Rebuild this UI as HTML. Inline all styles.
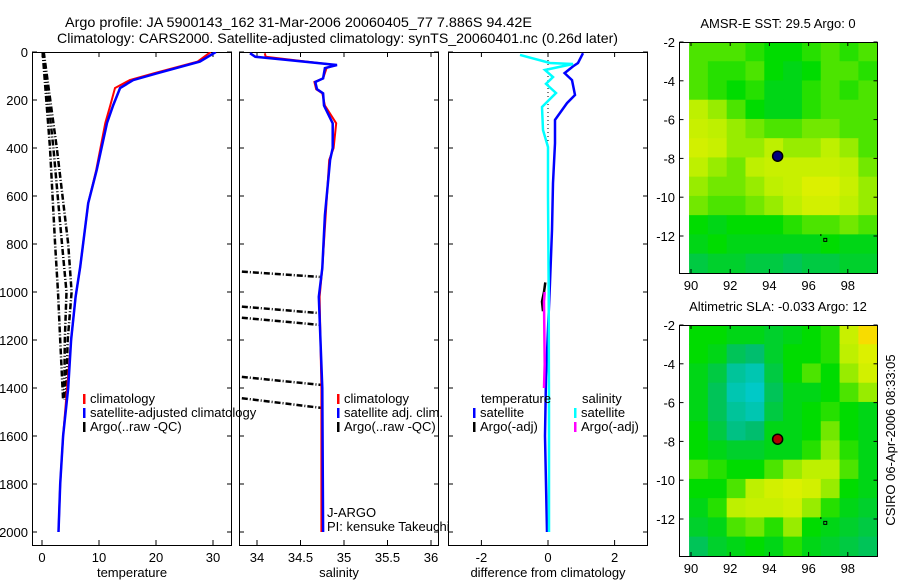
<!DOCTYPE html>
<html><head><meta charset="utf-8"><style>
html,body{margin:0;padding:0;background:#fff;}
svg{display:block;font-family:"Liberation Sans",sans-serif;}
</style></head><body>
<svg id="fig" width="900" height="580" xmlns="http://www.w3.org/2000/svg">
<text x="65" y="27" font-size="14" textLength="467" lengthAdjust="spacingAndGlyphs">Argo profile: JA 5900143_162 31-Mar-2006 20060405_77 7.886S 94.42E</text>
<text x="57" y="43" font-size="14" textLength="561" lengthAdjust="spacingAndGlyphs">Climatology: CARS2000. Satellite-adjusted climatology: synTS_20060401.nc (0.26d later)</text>
</svg>
<script>
// ---- data ----
const depthTicks=[0,200,400,600,800,1000,1200,1400,1600,1800,2000];
const tempTicks=[0,10,20,30];
const salTicks=[34,34.5,35,35.5,36];
const diffTicks=[-2,0,2];
const tClimDepth=[0,40,89,117,150,221,296,492,630,896,1020,1200,1400,1600,1800,2000];
const tClimRed=[29.6,27.3,19.6,15.4,12.8,12.0,11.1,9.5,8.1,6.7,5.9,5.1,4.4,3.7,3.2,2.9];
const tClimBlue=[30.5,27.7,20.1,16.0,13.7,12.5,11.4,9.6,8.1,6.7,5.9,5.1,4.6,3.7,3.2,2.9];
const tArgoDepth=[0,400,800,1000,1200,1450];
const tArgo1=[0.1,1.4,2.3,2.8,3.2,3.7];
const tArgo2=[0.2,2.0,3.5,4.3,4.0,3.9];
const tArgo3=[0.3,2.6,4.6,5.2,4.5,4.2];
const sClimDepth=[5,20,33,54,67,110,125,155,172,223,297,400,450,680,900,1020,1400,2000];
const sClimBlue=[33.92,33.98,34.34,34.92,34.78,34.76,34.67,34.69,34.76,34.77,34.87,34.87,34.84,34.78,34.75,34.71,34.75,34.76];
const sClimRed=[34.09,34.1,34.4,34.9,34.8,34.76,34.66,34.68,34.75,34.78,34.91,34.88,34.83,34.79,34.75,34.72,34.74,34.74];
const sArgoS0=[33.7,33.7,33.7,33.7,33.7];
const sArgoS1=[34.72,34.72,34.72,34.73,34.74];
const sArgoD0=[912,1057,1103,1349,1437];
const sArgoD1=[937,1088,1137,1387,1483];
const dDepth=[5,46,60,88,117,179,213,283,380,546,742,960,1354,1600,2000];
const dTempSat=[1.05,0.9,0.75,0.5,0.72,0.81,0.57,0.21,0.21,0.15,0.12,0.06,-0.06,-0.09,-0.03];
const dSalDepth=[12,46,50,75,104,133,171,229,325,396,600,1000,1500,2000];
const dSalSat=[-0.84,0.06,0.75,-0.09,0.15,-0.06,0.24,-0.18,-0.15,0,0,0.02,0.03,0.03];
const dArgoTDepth=[960,1000,1040,1080];
const dArgoT=[-0.08,-0.12,-0.18,-0.15];
const dArgoSDepth=[1000,1040,1300,1400];
const dArgoS=[-0.1,-0.12,-0.1,-0.12];
const lonTicks=[90,92,94,96,98];
const latTicks=[-2,-4,-6,-8,-10,-12];
const sstGrid=[
[0.6,0.6,0.6,0.55,0.5,0.5,0.55,0.6,0.55,0.6],
[0.6,0.55,0.55,0.6,0.5,0.45,0.5,0.6,0.6,0.55],
[0.6,0.55,0.5,0.55,0.45,0.45,0.55,0.6,0.55,0.6],
[0.75,0.7,0.6,0.5,0.45,0.45,0.55,0.6,0.6,0.6],
[0.8,0.75,0.7,0.65,0.6,0.6,0.65,0.65,0.6,0.6],
[0.85,0.8,0.7,0.7,0.75,0.7,0.7,0.75,0.7,0.6],
[0.75,0.7,0.65,0.75,0.8,0.8,0.8,0.8,0.75,0.65],
[0.7,0.65,0.65,0.7,0.75,0.8,0.9,0.9,0.8,0.7],
[0.65,0.6,0.6,0.65,0.7,0.75,0.85,0.85,0.75,0.7],
[0.5,0.45,0.5,0.5,0.5,0.55,0.6,0.6,0.65,0.6],
[0.45,0.5,0.45,0.45,0.45,0.45,0.45,0.5,0.45,0.45],
[0.35,0.4,0.4,0.35,0.35,0.3,0.35,0.35,0.4,0.4]];
const slaGrid=[
[0.5,0.5,0.45,0.45,0.4,0.45,0.5,0.55,0.8,1.1],
[0.5,0.45,0.3,0.25,0.4,0.5,0.5,0.55,0.75,0.9],
[0.45,0.35,0.15,0.1,0.35,0.5,0.6,0.5,0.7,0.85],
[0.45,0.3,0.1,0.05,0.3,0.45,0.45,0.5,0.6,0.7],
[0.45,0.3,0.15,0.1,0.35,0.45,0.5,0.55,0.5,0.45],
[0.5,0.35,0.2,0.25,0.45,0.45,0.5,0.65,0.5,0.45],
[0.5,0.45,0.4,0.4,0.45,0.45,0.55,0.7,0.55,0.45],
[0.6,0.55,0.5,0.5,0.6,0.7,0.75,0.75,0.6,0.45],
[0.5,0.5,0.6,0.75,0.85,0.9,0.85,0.7,0.5,0.45],
[0.45,0.55,0.75,0.8,0.8,0.85,0.7,0.55,0.45,0.4],
[0.4,0.45,0.6,0.65,0.55,0.7,0.5,0.45,0.4,0.35],
[0.3,0.4,0.45,0.5,0.45,0.55,0.45,0.4,0.35,0.3]];
const floatLon=94.42, floatLat=-7.886;

// ---- helpers ----
const S=document.getElementById('fig');
const NS='http://www.w3.org/2000/svg';
function mk(tag,attrs,parent){const e=document.createElementNS(NS,tag);for(const k in attrs)e.setAttribute(k,attrs[k]);(parent||S).appendChild(e);return e;}
const yD=d=>52+d*0.24;
const xT=t=>42+t*5.7;
const xS=s=>257+(s-34)*87;
const xDf=v=>548+v*33.3;
function poly(xs,ds,fx,color,w,dash,name,clip){
  let pts=xs.map((v,i)=>fx(v).toFixed(1)+','+yD(ds[i]).toFixed(1)).join(' ');
  const a={points:pts,fill:'none',stroke:color,'stroke-width':w};
  if(dash)a['stroke-dasharray']=dash;
  if(clip)a['clip-path']='url(#'+clip+')';
  const p=mk('polyline',a);
  
  
  return p;
}
function txt(x,y,s,size,anchor,name){const t=mk('text',{x:x,y:y,'font-size':size,'text-anchor':anchor||'start'});t.textContent=s;
  
  
  return t;}
const defs=mk('defs',{});
function clipRect(id,x,y,w,h){const c=mk('clipPath',{id:id},defs);mk('rect',{x:x,y:y,width:w,height:h},c);}

// ---- profile panels ----
const panels=[{x:32,name:'temperature',ticks:tempTicks,fx:xT,lab:'temperature',yl:true},
 {x:239,name:'salinity',ticks:salTicks,fx:xS,lab:'salinity'},
 {x:448,name:'difference',ticks:diffTicks,fx:xDf,lab:'difference from climatology'}];
panels.forEach((p,i)=>{
  clipRect('clip'+i,p.x,52,200,493);
  const r=mk('rect',{x:p.x+0.5,y:52.5,width:199,height:493,fill:'none',stroke:'#000','stroke-width':1});
  
  
  depthTicks.forEach(d=>{
    mk('line',{x1:p.x,x2:p.x+5,y1:yD(d),y2:yD(d),stroke:'#000'});
    mk('line',{x1:p.x+195,x2:p.x+200,y1:yD(d),y2:yD(d),stroke:'#000'});
    if(p.yl)txt(28,yD(d)+5,String(d),13,'end','y-tick-'+d);
  });
  p.ticks.forEach(t=>{
    const x=p.fx(t);
    mk('line',{x1:x,x2:x,y1:52,y2:57,stroke:'#000'});
    mk('line',{x1:x,x2:x,y1:540,y2:545,stroke:'#000'});
    txt(x,562,String(t),13,'middle',p.name+'-x-tick');
  });
  txt(p.x+100,577,p.lab,13,'middle',p.name+'-axis-title');
});
// temperature
poly(tArgo1,tArgoDepth,xT,'#000',2.5,'6 2 1 2','argo-temp-raw-1','clip0');
poly(tArgo2,tArgoDepth,xT,'#000',2.5,'6 2 1 2','argo-temp-raw-2','clip0');
poly(tArgo3,tArgoDepth,xT,'#000',2.5,'6 2 1 2','argo-temp-raw-3','clip0');
poly(tClimRed,tClimDepth,xT,'#f00',2,null,'temp-climatology-line','clip0');
poly(tClimBlue,tClimDepth,xT,'#00f',2.5,null,'temp-satellite-adjusted-line','clip0');
// salinity
sArgoS0.forEach((s,i)=>{
  const l=mk('line',{x1:xS(s),y1:yD(sArgoD0[i]),x2:xS(sArgoS1[i]),y2:yD(sArgoD1[i]),stroke:'#000','stroke-width':2.5,'stroke-dasharray':'6 2 1 2','clip-path':'url(#clip1)'});
  
  
});
poly(sClimRed,sClimDepth,xS,'#f00',2,null,'salinity-climatology-line','clip1');
poly(sClimBlue,sClimDepth,xS,'#00f',2.5,null,'salinity-satellite-adjusted-line','clip1');
// difference
const z=mk('line',{x1:xDf(0),x2:xDf(0),y1:yD(0),y2:yD(600),stroke:'#000','stroke-dasharray':'1 3'});

poly(dTempSat,dDepth,xDf,'#00f',2.5,null,'temp-satellite-difference-line','clip2');
poly(dSalSat,dSalDepth,xDf,'#0ff',2.5,null,'salinity-satellite-difference-line','clip2');
poly(dArgoT,dArgoTDepth,xDf,'#000',2.5,null,'temp-argo-difference-line','clip2');
poly(dArgoS,dArgoSDepth,xDf,'#f0f',2.5,null,'salinity-argo-difference-line','clip2');

// legends
function legItem(bx,y,color,label,name){
  const b=mk('rect',{x:bx,y:y-9,width:2.5,height:10,fill:color});
  
  txt(bx+7,y,label,13,'start',name);
}
legItem(83,403,'#f00','climatology','legend-climatology');
legItem(83,417,'#00f','satellite-adjusted climatology','legend-satellite-adjusted');
legItem(83,431,'#000','Argo(..raw -QC)','legend-argo-raw');
legItem(337,403,'#f00','climatology','legend-sal-climatology');
legItem(337,417,'#00f','satellite adj. clim.','legend-sal-satellite-adj');
legItem(337,431,'#000','Argo(..raw -QC)','legend-sal-argo-raw');
txt(327,517,'J-ARGO',13,'start','program-label');
txt(327,531,'PI: kensuke Takeuchi',13,'start','pi-label');
txt(481,403,'temperature',13,'start','legend-temperature-header');
legItem(473,417,'#00f','satellite','legend-temp-satellite');
legItem(473,431,'#000','Argo(-adj)','legend-temp-argo');
txt(582,403,'salinity',13,'start','legend-salinity-header');
legItem(574,417,'#0ff','satellite','legend-sal-satellite');
legItem(574,431,'#f0f','Argo(-adj)','legend-sal-argo');

// ---- maps ----
const cstops=[[0,[0,204,221]],[0.25,[0,190,110]],[0.5,[0,220,0]],[0.75,[190,240,0]],[1,[240,240,0]],[1.2,[255,200,0]]];
function cmap(v){for(let i=1;i<cstops.length;i++){if(v<=cstops[i][0]){const a=cstops[i-1],b=cstops[i];const f=(v-a[0])/(b[0]-a[0]);
 return 'rgb('+a[1].map((c,k)=>Math.round(c+(b[1][k]-c)*f)).join(',')+')';}}return 'rgb(255,200,0)';}
function drawMap(top,grid,title,dotColor,name){
  const L=679.5,R=877.5,B=top+231;
  const xL=lon=>691+(lon-90)*19.6;
  const yL=lat=>top+(-2-lat)*19.4;
  const lon0=89.9,lon1=99.5,lat0=-2,lat1=-13.9;
  const nr=grid.length,nc=grid[0].length;
  const g=mk('g',{});
  
  grid.forEach((row,r)=>row.forEach((v,c)=>{
    const lo=lon0+(lon1-lon0)*c/nc,hi=lon0+(lon1-lon0)*(c+1)/nc;
    const la=lat0+(lat1-lat0)*r/nr,lb=lat0+(lat1-lat0)*(r+1)/nr;
    const cell=mk('rect',{x:xL(lo),y:yL(la),width:xL(hi)-xL(lo)+0.5,height:yL(lb)-yL(la)+0.5,fill:cmap(v)},g);
    
    
  }));
  const fr=mk('rect',{x:L,y:top+0.5,width:R-L,height:231,fill:'none',stroke:'#000'});
  
  latTicks.forEach(l=>{mk('line',{x1:L,x2:L+4,y1:yL(l),y2:yL(l),stroke:'#000'});mk('line',{x1:R-4,x2:R,y1:yL(l),y2:yL(l),stroke:'#000'});
    txt(675,yL(l)+5,String(l),13,'end',name+'-lat-tick');});
  lonTicks.forEach(l=>{mk('line',{x1:xL(l),x2:xL(l),y1:top,y2:top+4,stroke:'#000'});mk('line',{x1:xL(l),x2:xL(l),y1:B-4,y2:B,stroke:'#000'});
    txt(xL(l),B+17,String(l),13,'middle',name+'-lon-tick');});
  txt(778,top-14,title,13,'middle',name+'-title');
  const d=mk('circle',{cx:xL(floatLon),cy:yL(floatLat),r:5,fill:dotColor,stroke:'#000','stroke-width':1.5});
  
  mk('rect',{x:xL(96.85)-1.5,y:yL(-12.2)-1.5,width:3,height:3,fill:'none',stroke:'#000'});
  mk('rect',{x:xL(96.6),y:yL(-11.9),width:1,height:2,fill:'#000'});
}
drawMap(42,sstGrid,'AMSR-E SST: 29.5 Argo: 0','#000080','sst-map');
drawMap(325,slaGrid,'Altimetric SLA: -0.033 Argo: 12','#b00000','sla-map');
const cs=txt(0,0,'CSIRO 06-Apr-2006 08:33:05',13,'middle','timestamp-label');
cs.setAttribute('transform','translate(895,440) rotate(-90)');
</script>
</body></html>
